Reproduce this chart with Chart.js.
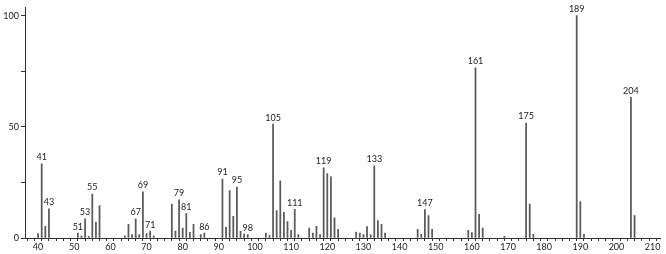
<!DOCTYPE html>
<html>
<head>
<meta charset="utf-8">
<script src="https://cdn.jsdelivr.net/npm/chart.js@4.4.1/dist/chart.umd.min.js"></script>
<style>
  html, body { margin: 0; padding: 0; background: #fff; }
  #wrap { width: 666px; height: 254px; position: relative; }
</style>
</head>
<body>
<div id="wrap"><canvas id="ms"></canvas></div>
<script>
// m/z values and relative intensities
const masses = [40, 41, 42, 43, 51, 52, 53, 54, 55, 56, 57, 64, 65, 66, 67, 68, 69, 70, 71, 72,
  77, 78, 79, 80, 81, 82, 83, 85, 86, 91, 92, 93, 94, 95, 96, 97, 98, 103, 104, 105,
  106, 107, 108, 109, 110, 111, 112, 115, 116, 117, 118, 119, 120, 121, 122, 123, 128, 129, 130, 131,
  132, 133, 134, 135, 136, 145, 146, 147, 148, 149, 159, 160, 161, 162, 163, 169, 175, 176, 177, 189,
  190, 191, 204, 205];
const intensities = [2.0, 33.4, 5.2, 13.1, 2.2, 1.0, 8.6, 0.7, 19.8, 7.1, 14.6, 1.0, 6.1, 1.5, 8.6, 1.5, 20.8, 2.0, 3.1, 1.0,
  15.3, 3.1, 17.2, 4.5, 11.0, 2.5, 6.1, 1.5, 2.2, 26.5, 4.8, 21.3, 9.7, 22.9, 3.0, 1.8, 1.5, 2.2, 1.2, 51.2,
  12.3, 25.7, 11.5, 7.4, 3.4, 12.9, 1.5, 4.5, 2.2, 5.2, 1.5, 31.6, 29.0, 27.5, 9.1, 3.9, 2.7, 2.2, 1.5, 5.1,
  1.5, 32.5, 7.8, 6.2, 2.2, 3.9, 1.6, 12.8, 10.1, 3.9, 3.4, 2.4, 76.5, 10.6, 4.5, 0.8, 51.7, 15.3, 1.6, 100,
  16.4, 1.6, 63.3, 10.1];
// peaks that carry an m/z label
const labeledMasses = [41, 43, 51, 53, 55, 67, 69, 71, 79, 81, 86, 91, 95, 98, 105, 111, 119, 133, 147, 161, 175, 189, 204];
const yTickLabels = [0, 50, 100];

const axisColor = '#333';
const font = { family: 'Lato', size: 9 };

// writes the m/z number over the labelled peaks
const peakLabels = {
  id: 'peakLabels',
  afterDatasetsDraw(chart) {
    const ctx = chart.ctx;
    const meta = chart.getDatasetMeta(0);
    ctx.save();
    ctx.font = '9px Lato';
    ctx.fillStyle = '#222';
    ctx.textAlign = 'center';
    ctx.textBaseline = 'bottom';
    meta.data.forEach((bar, i) => {
      if (labeledMasses.includes(masses[i])) {
        ctx.fillText(String(masses[i]), bar.x, bar.y - 2);
      }
    });
    ctx.restore();
  }
};

new Chart(document.getElementById('ms'), {
  type: 'bar',
  data: {
    datasets: [{
      data: masses.map((m, i) => ({ x: m, y: intensities[i] })),
      backgroundColor: '#5a5a5a',
      barThickness: 1.1,
      grouped: false
    }]
  },
  options: {
    responsive: true,
    maintainAspectRatio: false,
    animation: false,
    layout: { padding: { top: 5, right: 6, left: 0, bottom: 0 } },
    plugins: { legend: { display: false }, tooltip: { enabled: false } },
    scales: {
      x: {
        type: 'linear',
        min: 36.38,
        max: 212.04,
        offset: false,
        afterFit: (scale) => { scale.height = 16; },
        border: { display: true, color: axisColor, width: 1 },
        grid: { drawOnChartArea: false, drawTicks: true, tickLength: 3, color: axisColor },
        ticks: {
          stepSize: 2,
          includeBounds: false,
          autoSkip: false,
          maxRotation: 0,
          padding: 1,
          color: '#222',
          font: font,
          callback: (v) => (v % 10 === 0 ? String(v) : '')
        }
      },
      y: {
        min: 0,
        max: 103.7,
        afterFit: (scale) => { scale.width = 25; },
        border: { display: true, color: axisColor, width: 1 },
        grid: { drawOnChartArea: false, drawTicks: true, tickLength: 4, color: axisColor },
        ticks: {
          stepSize: 25,
          includeBounds: false,
          autoSkip: false,
          padding: 2,
          color: '#222',
          font: font,
          callback: (v) => (yTickLabels.includes(v) ? String(v) : '')
        }
      }
    }
  },
  plugins: [peakLabels]
});
</script>
</body>
</html>
